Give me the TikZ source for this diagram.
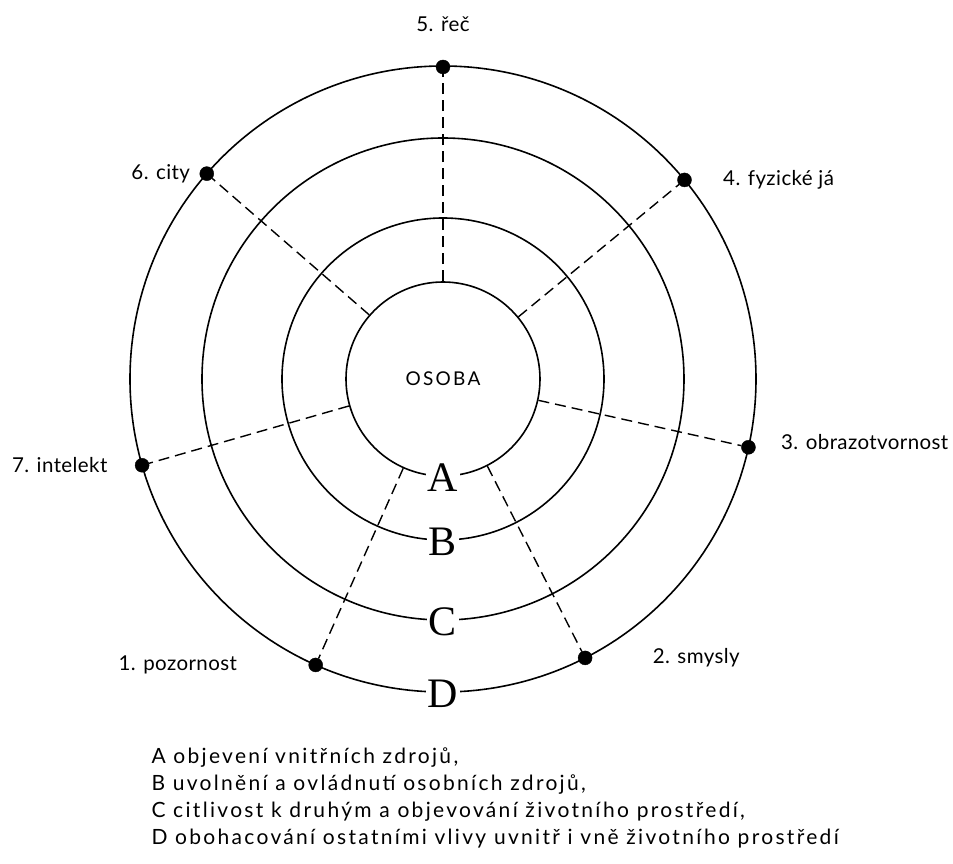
\documentclass[tikz,border=0pt]{standalone}
\usepackage{fontspec}
\newfontfamily\labelfont[LetterSpace=2]{Lato}
\newfontfamily\legendfont[LetterSpace=11]{Lato}
\newfontfamily\osobafont[LetterSpace=12]{Lato}
\newfontfamily\letterfont{Liberation Serif}

\begin{document}
\begin{tikzpicture}[x=1pt,y=1pt]
\tikzset{
dot/.style={draw,shape=circle,fill=black,inner sep=0pt,minimum size=14pt},
ring/.style={line width=1.6pt},
spoke/.style={line width=1.4pt,dash pattern=on 11pt off 6pt},
ringletter/.style={fill=white,inner sep=2pt,font=\letterfont\fontsize{42}{42}\selectfont},
every label/.style={font=\labelfont\fontsize{20.5}{20.5}\selectfont},
legend/.style={anchor=base west,font=\legendfont\fontsize{21}{21}\selectfont}
}
\useasboundingbox (-443,-485) rectangle (510,379);

	% rings
	\node[draw,ring,shape=circle,minimum size=194pt,inner sep=0pt,font=\osobafont\fontsize{19}{19}\selectfont] (osoba) at (0,0) {OSOBA};
	\draw[ring] (0,0) circle (161);
	\draw[ring] (0,0) circle (241);
	\draw[ring] (0,0) circle (313);

	% dots on the outer ring
	\node[dot, label={[label distance=25pt]above:5. řeč}] at (90:312) (d5) {};
	\node[dot, label={[label distance=28pt]right:4. fyzické já}] at (39.5:313) (d4) {};
	\node[dot, label={[label distance=22pt,yshift=5pt]right:3. obrazotvornost}] at (-12.6:313) (d3) {};
	\node[dot, label={[label distance=57pt]right:2. smysly}] at (-63:313) (d2) {};
	\node[dot, label={[label distance=68pt]left:1. pozornost}] at (246:313) (d1) {};
	\node[dot, label={[label distance=24pt]left:7. intelekt}] at (196:313) (d7) {};
	\node[dot, label={[label distance=6pt]left:6. city}] at (139:313) (d6) {};

	\draw[spoke] (osoba) -- (d5);
	\draw[spoke] (osoba) -- (d4);
	\draw[spoke] (osoba) -- (d3);
	\draw[spoke] (osoba) -- (d2);
	\draw[spoke] (osoba) -- (d1);
	\draw[spoke] (osoba) -- (d7);
	\draw[spoke] (osoba) -- (d6);

	% letters on the rings
	\node[ringletter] at (0,-99) (A) {A};
	\node[ringletter] at (0,-163) (B) {B};
	\node[ringletter] at (0,-243) (C) {C};
	\node[ringletter] at (0,-315) (D) {D};

	% legend
	\node[legend] at (-295,-384) (legA) {A objevení vnitřních zdrojů,};
	\node[legend] at (-295,-411) (legB) {B uvolnění a ovládnutí osobních zdrojů,};
	\node[legend] at (-295,-438) (legC) {C citlivost k druhým a objevování životního prostředí,};
	\node[legend] at (-295,-465) (legD) {D obohacování ostatními vlivy uvnitř i vně životního prostředí};

\end{tikzpicture}
\end{document}
